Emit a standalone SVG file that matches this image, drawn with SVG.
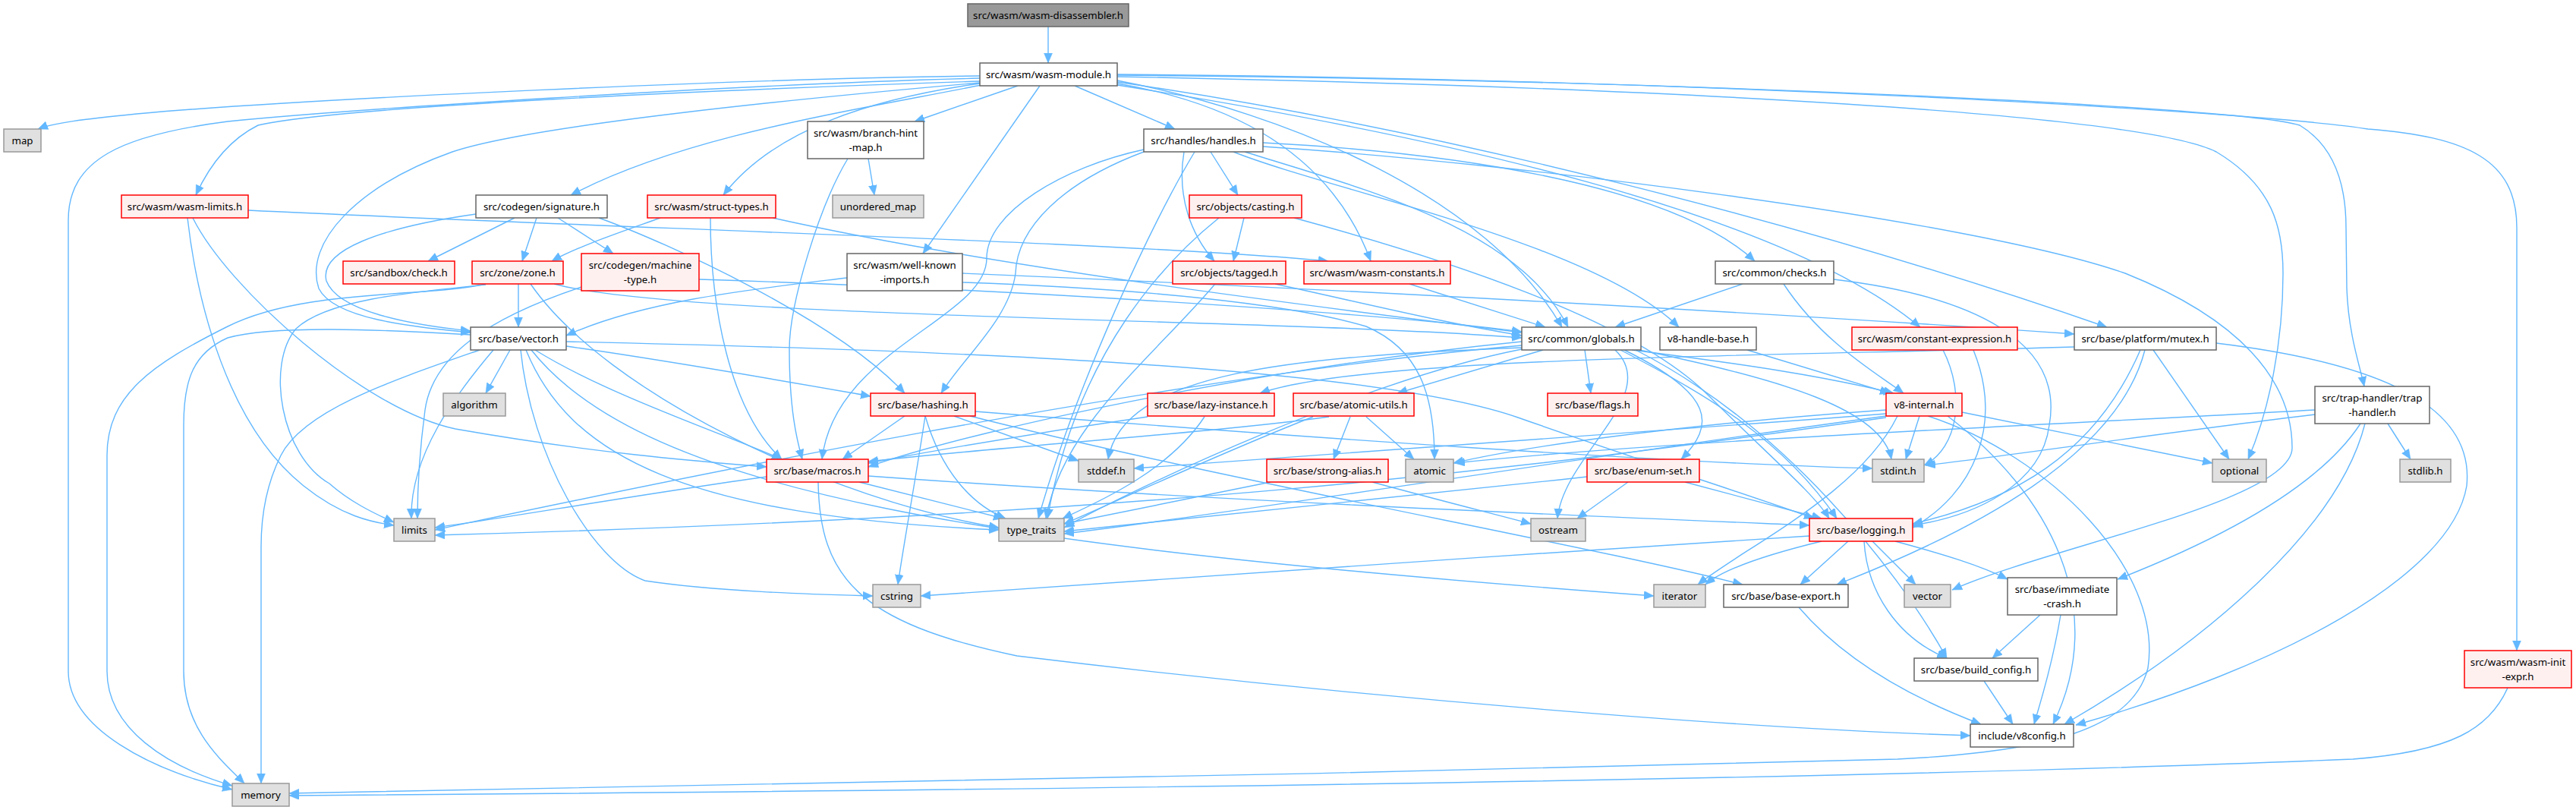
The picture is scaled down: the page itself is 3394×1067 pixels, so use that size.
<svg xmlns="http://www.w3.org/2000/svg" width="3394" height="1067" viewBox="0 0 3394 1067">
<style>
.bg{fill:#ffffff}
.node rect{stroke-width:1.5}
.w rect{fill:#ffffff;stroke:#666666}
.r rect{fill:#fff0f0;stroke:#ff0000}
.g rect{fill:#e0e0e0;stroke:#999999}
.root rect{fill:#999999;stroke:#666666}
.node text{font-family:"Noto Sans","DejaVu Sans",sans-serif;font-size:13.3px;fill:#000000;text-anchor:middle;dominant-baseline:central}
#edges path{fill:none;stroke:#63b8ff;stroke-width:1.4;marker-end:url(#ah)}
</style>
<defs>
<marker id="ah" markerUnits="userSpaceOnUse" markerWidth="14" markerHeight="12" refX="13" refY="5.5" orient="auto">
<path d="M0,0 L13,5.5 L0,11 z" fill="#63b8ff" stroke="#63b8ff" stroke-width="0.5"/>
</marker>
</defs>
<rect class="bg" x="0" y="0" width="3394" height="1067"/>
<g id="edges">
<path d="M1381,35 L1381,83"/>
<path d="M1291,100 C1000,103 400,130 180,150 C110,157 70,162 50,170"/>
<path d="M1291,103 C950,112 450,145 300,160 C160,178 90,210 90,290 L90,884 C90,960 200,1015 306,1040"/>
<path d="M1291,107 C950,118 450,140 340,165 C300,185 275,220 258,257"/>
<path d="M1293,112 C1100,150 900,180 752,257"/>
<path d="M1291,109 C1050,130 700,165 596,200 C470,245 400,320 420,380 C440,420 540,430 620,438"/>
<path d="M1291,110 C1150,130 1020,170 953,257"/>
<path d="M1341,113 L1205,160"/>
<path d="M1370,113 L1216,334"/>
<path d="M1416,113 L1548,170"/>
<path d="M1472,110 C1650,140 1760,220 1806,344"/>
<path d="M1472,106 C1700,150 1960,260 2058,431"/>
<path d="M1472,112 C1900,180 2350,280 2530,431"/>
<path d="M1472,108 C1900,170 2400,300 2776,431"/>
<path d="M1472,101 C2200,115 2820,150 2920,200 C2995,245 3008,300 3008,360 C3008,450 2990,540 2962,605"/>
<path d="M1472,99 C2200,105 2950,140 3030,165 C3080,195 3091,250 3091,300 L3092,380 C3094,440 3110,485 3115,509"/>
<path d="M1472,98 C2300,105 3000,150 3120,170 C3250,180 3316,210 3316,300 L3316,857"/>
<path d="M327,277 C800,300 1500,320 1750,344"/>
<path d="M247,287 C260,400 300,560 400,640 C450,680 490,688 519,692"/>
<path d="M254,287 C300,380 480,540 600,565 C800,600 950,610 1010,615"/>
<path d="M678,287 L564,344"/>
<path d="M707,287 L688,344"/>
<path d="M735,287 L808,334"/>
<path d="M627,282 C500,300 420,330 430,370 C445,410 540,428 620,436"/>
<path d="M789,287 C880,320 1100,420 1192,518"/>
<path d="M870,287 C820,305 760,325 727,344"/>
<path d="M936,287 C936,400 960,540 1030,605"/>
<path d="M1018,287 C1300,350 1700,400 2005,438"/>
<path d="M1144,209 L1152,257"/>
<path d="M1117,209 C1080,270 1040,400 1040,460 C1040,540 1050,580 1057,605"/>
<path d="M1116,366 C1000,380 850,395 746,442"/>
<path d="M1268,372 C1500,380 1700,400 1800,430 C1870,460 1890,520 1890,605"/>
<path d="M1268,360 C1700,378 2300,410 2733,440"/>
<path d="M1595,200 L1631,257"/>
<path d="M1560,200 C1550,260 1570,310 1600,344"/>
<path d="M1574,200 C1520,290 1420,500 1368,683"/>
<path d="M1507,197 C1400,220 1300,280 1300,340 C1300,420 1100,460 1083,605"/>
<path d="M1507,200 C1400,240 1340,300 1338,360 C1330,420 1270,470 1240,518"/>
<path d="M1640,200 C1800,250 2000,300 2066,431"/>
<path d="M1625,200 C1750,250 2100,320 2212,431"/>
<path d="M1664,188 C1900,200 2200,240 2312,344"/>
<path d="M1664,193 C2000,215 2600,290 2800,360 C2950,420 3020,500 3020,590 C3020,660 2700,720 2572,777"/>
<path d="M1639,287 L1625,344"/>
<path d="M1606,287 C1540,340 1420,460 1380,683"/>
<path d="M1705,287 C1900,340 2150,420 2250,520 C2330,600 2390,650 2410,683"/>
<path d="M1601,374 C1520,470 1400,560 1378,683"/>
<path d="M1680,374 C1800,400 1900,425 2005,442"/>
<path d="M1857,374 L2036,431"/>
<path d="M683,374 L683,431"/>
<path d="M640,374 C560,392 400,380 300,430 C200,480 141,520 141,600 L141,884 C141,960 220,1010 306,1035"/>
<path d="M640,375 C540,385 430,395 390,433 C350,480 370,600 434,637 C460,660 490,675 519,688"/>
<path d="M699,374 C800,520 1100,660 1316,695"/>
<path d="M730,374 C900,420 1700,420 2005,445"/>
<path d="M620,441 C500,434 360,428 300,445 C255,465 242,500 242,560 L242,884 C242,960 290,1000 322,1032"/>
<path d="M632,461 C520,500 400,540 370,600 C350,640 344,680 344,720 L344,1032"/>
<path d="M672,461 L640,518"/>
<path d="M650,461 C600,520 540,600 542,683"/>
<path d="M686,461 C700,600 780,740 850,765 C950,780 1080,783 1150,785"/>
<path d="M700,461 C850,650 1300,720 2179,785"/>
<path d="M693,461 C750,600 900,680 1316,698"/>
<path d="M746,456 C900,478 1050,505 1147,522"/>
<path d="M705,461 C800,520 950,570 1030,605"/>
<path d="M746,450 C1200,460 1800,480 2000,550 C2200,620 2330,660 2390,683"/>
<path d="M766,378 C640,420 570,470 560,540 C552,600 550,650 550,683"/>
<path d="M921,368 C1300,380 1800,410 2005,437"/>
<path d="M2033,461 L1841,518"/>
<path d="M2088,461 L2096,518"/>
<path d="M2140,461 C2260,520 2260,560 2215,605"/>
<path d="M2150,461 C2300,480 2400,495 2495,518"/>
<path d="M2160,461 C2350,500 2480,540 2492,605"/>
<path d="M2135,461 C2250,520 2350,580 2420,683"/>
<path d="M2128,461 C2190,520 2060,600 2052,683"/>
<path d="M2155,461 C2350,560 2500,750 2565,867"/>
<path d="M2005,450 C1700,480 1300,560 1144,615"/>
<path d="M2005,455 C1500,500 800,650 573,698"/>
<path d="M2005,458 C1700,470 1480,490 1460,605"/>
<path d="M2005,460 C1800,500 1500,640 1402,695"/>
<path d="M2302,461 L2490,518"/>
<path d="M2560,461 C2590,520 2580,590 2535,613"/>
<path d="M2600,461 C2640,560 2600,650 2520,695"/>
<path d="M2733,457 C2300,470 1800,470 1660,518"/>
<path d="M2820,461 C2760,600 2650,660 2520,690"/>
<path d="M2826,461 C2790,600 2600,700 2420,770"/>
<path d="M2837,461 L2937,605"/>
<path d="M2920,452 C3150,480 3260,540 3250,640 C3230,760 3000,880 2735,955"/>
<path d="M3110,558 C3050,650 2900,720 2790,763"/>
<path d="M3116,558 C3080,700 2900,850 2720,954"/>
<path d="M3146,558 L3176,605"/>
<path d="M3050,546 C2850,570 2650,600 2537,613"/>
<path d="M3050,540 C2700,560 2200,580 1917,610"/>
<path d="M1192,548 L1110,605"/>
<path d="M1219,548 C1240,620 1280,665 1325,683"/>
<path d="M1219,548 C1205,640 1190,720 1183,770"/>
<path d="M1257,548 L1421,607"/>
<path d="M1278,548 C1600,630 2100,720 2296,770"/>
<path d="M1285,542 C1700,575 2200,610 2467,617"/>
<path d="M1512,549 C1400,565 1250,590 1144,610"/>
<path d="M1587,549 C1540,620 1450,660 1400,683"/>
<path d="M1800,549 L1863,605"/>
<path d="M1779,549 L1757,605"/>
<path d="M1751,549 C1600,570 1300,590 1144,608"/>
<path d="M1730,549 C1600,600 1450,670 1402,690"/>
<path d="M1674,635 L1402,690"/>
<path d="M1808,635 C1900,660 1980,680 2017,690"/>
<path d="M2220,635 L2400,683"/>
<path d="M2145,635 L2078,683"/>
<path d="M2091,628 C1800,660 1500,690 1402,700"/>
<path d="M2529,548 L2511,605"/>
<path d="M2485,540 C2200,560 2000,590 1915,610"/>
<path d="M2485,545 C2100,575 1700,600 1494,617"/>
<path d="M2485,548 C2100,600 1600,680 1402,703"/>
<path d="M2485,550 C2000,620 1500,680 573,705"/>
<path d="M2540,548 C2700,600 2850,750 2830,880 C2810,960 2700,990 2500,1000 C1800,1020 900,1035 381,1045"/>
<path d="M2585,543 L2915,610"/>
<path d="M2566,548 C2700,650 2780,800 2705,954"/>
<path d="M2500,548 C2450,650 2300,720 2237,770"/>
<path d="M1132,635 L1322,683"/>
<path d="M1078,635 C1080,760 1130,820 1340,864 C1800,920 2300,960 2596,969"/>
<path d="M1010,628 C850,650 650,685 573,695"/>
<path d="M1144,627 C1600,660 2100,680 2384,692"/>
<path d="M2435,713 L2372,770"/>
<path d="M2467,713 L2524,770"/>
<path d="M2497,713 C2560,730 2610,745 2645,763"/>
<path d="M2456,713 C2460,780 2500,840 2565,867"/>
<path d="M2384,706 C2000,730 1500,765 1213,785"/>
<path d="M2400,713 C2330,730 2270,750 2247,770"/>
<path d="M2370,800 C2430,870 2520,920 2610,954"/>
<path d="M2688,810 L2625,867"/>
<path d="M2715,810 C2705,870 2690,920 2680,954"/>
<path d="M2614,897 L2652,954"/>
<path d="M3304,906 C3280,960 3230,990 3100,1000 C2500,1025 1500,1040 381,1048"/>
<path d="M2296,374 L2128,431"/>
<path d="M2350,374 C2400,450 2470,490 2508,518"/>
<path d="M2416,368 C2600,390 2720,450 2700,560 C2690,640 2600,680 2520,692"/>
</g>
<g id="n-root" class="node root"><rect x="1275" y="5" width="212" height="30"/><text x="1381" y="20">src/wasm/wasm-disassembler.h</text></g>
<g id="n-wm" class="node w"><rect x="1291" y="83" width="181" height="30"/><text x="1381.5" y="98">src/wasm/wasm-module.h</text></g>
<g id="n-map" class="node g"><rect x="5" y="170" width="49" height="30"/><text x="29.5" y="185">map</text></g>
<g id="n-bhm" class="node w"><rect x="1064" y="160" width="153" height="49"/><text x="1140.5" y="175">src/wasm/branch-hint</text><text x="1140.5" y="194">-map.h</text></g>
<g id="n-handles" class="node w"><rect x="1507" y="170" width="157" height="30"/><text x="1585.5" y="185">src/handles/handles.h</text></g>
<g id="n-wlim" class="node r"><rect x="160" y="257" width="167" height="30"/><text x="243.5" y="272">src/wasm/wasm-limits.h</text></g>
<g id="n-sig" class="node w"><rect x="627" y="257" width="173" height="30"/><text x="713.5" y="272">src/codegen/signature.h</text></g>
<g id="n-stypes" class="node r"><rect x="853" y="257" width="169" height="30"/><text x="937.5" y="272">src/wasm/struct-types.h</text></g>
<g id="n-umap" class="node g"><rect x="1097" y="257" width="120" height="30"/><text x="1157" y="272">unordered_map</text></g>
<g id="n-casting" class="node r"><rect x="1567" y="257" width="148" height="30"/><text x="1641" y="272">src/objects/casting.h</text></g>
<g id="n-check" class="node r"><rect x="452" y="344" width="147" height="30"/><text x="525.5" y="359">src/sandbox/check.h</text></g>
<g id="n-zone" class="node r"><rect x="622" y="344" width="120" height="30"/><text x="682" y="359">src/zone/zone.h</text></g>
<g id="n-mtype" class="node r"><rect x="766" y="334" width="155" height="49"/><text x="843.5" y="349">src/codegen/machine</text><text x="843.5" y="368">-type.h</text></g>
<g id="n-wki" class="node w"><rect x="1116" y="334" width="152" height="49"/><text x="1192" y="349">src/wasm/well-known</text><text x="1192" y="368">-imports.h</text></g>
<g id="n-tagged" class="node r"><rect x="1545" y="344" width="149" height="30"/><text x="1619.5" y="359">src/objects/tagged.h</text></g>
<g id="n-wconst" class="node r"><rect x="1718" y="344" width="193" height="30"/><text x="1814.5" y="359">src/wasm/wasm-constants.h</text></g>
<g id="n-checks" class="node w"><rect x="2260" y="344" width="156" height="30"/><text x="2338" y="359">src/common/checks.h</text></g>
<g id="n-vectorh" class="node w"><rect x="620" y="431" width="126" height="30"/><text x="683" y="446">src/base/vector.h</text></g>
<g id="n-globals" class="node w"><rect x="2005" y="431" width="157" height="30"/><text x="2083.5" y="446">src/common/globals.h</text></g>
<g id="n-v8hb" class="node w"><rect x="2187" y="431" width="127" height="30"/><text x="2250.5" y="446">v8-handle-base.h</text></g>
<g id="n-cexpr" class="node r"><rect x="2440" y="431" width="218" height="30"/><text x="2549" y="446">src/wasm/constant-expression.h</text></g>
<g id="n-mutex" class="node w"><rect x="2733" y="431" width="187" height="30"/><text x="2826.5" y="446">src/base/platform/mutex.h</text></g>
<g id="n-algo" class="node g"><rect x="584" y="518" width="82" height="30"/><text x="625" y="533">algorithm</text></g>
<g id="n-hashing" class="node r"><rect x="1147" y="518" width="138" height="30"/><text x="1216" y="533">src/base/hashing.h</text></g>
<g id="n-lazy" class="node r"><rect x="1512" y="518" width="167" height="30"/><text x="1595.5" y="533">src/base/lazy-instance.h</text></g>
<g id="n-autils" class="node r"><rect x="1704" y="518" width="159" height="30"/><text x="1783.5" y="533">src/base/atomic-utils.h</text></g>
<g id="n-flags" class="node r"><rect x="2039" y="518" width="119" height="30"/><text x="2098.5" y="533">src/base/flags.h</text></g>
<g id="n-v8int" class="node r"><rect x="2485" y="518" width="100" height="30"/><text x="2535" y="533">v8-internal.h</text></g>
<g id="n-trap" class="node w"><rect x="3050" y="509" width="151" height="49"/><text x="3125.5" y="524">src/trap-handler/trap</text><text x="3125.5" y="543">-handler.h</text></g>
<g id="n-macros" class="node r"><rect x="1010" y="605" width="134" height="30"/><text x="1077" y="620">src/base/macros.h</text></g>
<g id="n-stddef" class="node g"><rect x="1421" y="605" width="73" height="30"/><text x="1457.5" y="620">stddef.h</text></g>
<g id="n-salias" class="node r"><rect x="1669" y="605" width="160" height="30"/><text x="1749" y="620">src/base/strong-alias.h</text></g>
<g id="n-atomic" class="node g"><rect x="1852" y="605" width="63" height="30"/><text x="1883.5" y="620">atomic</text></g>
<g id="n-enumset" class="node r"><rect x="2091" y="605" width="148" height="30"/><text x="2165" y="620">src/base/enum-set.h</text></g>
<g id="n-stdint" class="node g"><rect x="2467" y="605" width="68" height="30"/><text x="2501" y="620">stdint.h</text></g>
<g id="n-optional" class="node g"><rect x="2915" y="605" width="71" height="30"/><text x="2950.5" y="620">optional</text></g>
<g id="n-stdlib" class="node g"><rect x="3162" y="605" width="67" height="30"/><text x="3195.5" y="620">stdlib.h</text></g>
<g id="n-limits" class="node g"><rect x="519" y="683" width="54" height="30"/><text x="546" y="698">limits</text></g>
<g id="n-ttraits" class="node g"><rect x="1316" y="683" width="86" height="30"/><text x="1359" y="698">type_traits</text></g>
<g id="n-ostream" class="node g"><rect x="2017" y="683" width="72" height="30"/><text x="2053" y="698">ostream</text></g>
<g id="n-logging" class="node r"><rect x="2384" y="683" width="136" height="30"/><text x="2452" y="698">src/base/logging.h</text></g>
<g id="n-cstring" class="node g"><rect x="1150" y="770" width="63" height="30"/><text x="1181.5" y="785">cstring</text></g>
<g id="n-iterator" class="node g"><rect x="2179" y="770" width="68" height="30"/><text x="2213" y="785">iterator</text></g>
<g id="n-bexport" class="node w"><rect x="2271" y="770" width="164" height="30"/><text x="2353" y="785">src/base/base-export.h</text></g>
<g id="n-vector" class="node g"><rect x="2509" y="770" width="61" height="30"/><text x="2539.5" y="785">vector</text></g>
<g id="n-icrash" class="node w"><rect x="2645" y="761" width="144" height="49"/><text x="2717" y="776">src/base/immediate</text><text x="2717" y="795">-crash.h</text></g>
<g id="n-bconf" class="node w"><rect x="2522" y="867" width="163" height="30"/><text x="2603.5" y="882">src/base/build_config.h</text></g>
<g id="n-initexpr" class="node r"><rect x="3247" y="857" width="141" height="49"/><text x="3317.5" y="872">src/wasm/wasm-init</text><text x="3317.5" y="891">-expr.h</text></g>
<g id="n-v8config" class="node w"><rect x="2596" y="954" width="136" height="30"/><text x="2664" y="969">include/v8config.h</text></g>
<g id="n-memory" class="node g"><rect x="306" y="1032" width="75" height="30"/><text x="343.5" y="1047">memory</text></g>
</svg>
